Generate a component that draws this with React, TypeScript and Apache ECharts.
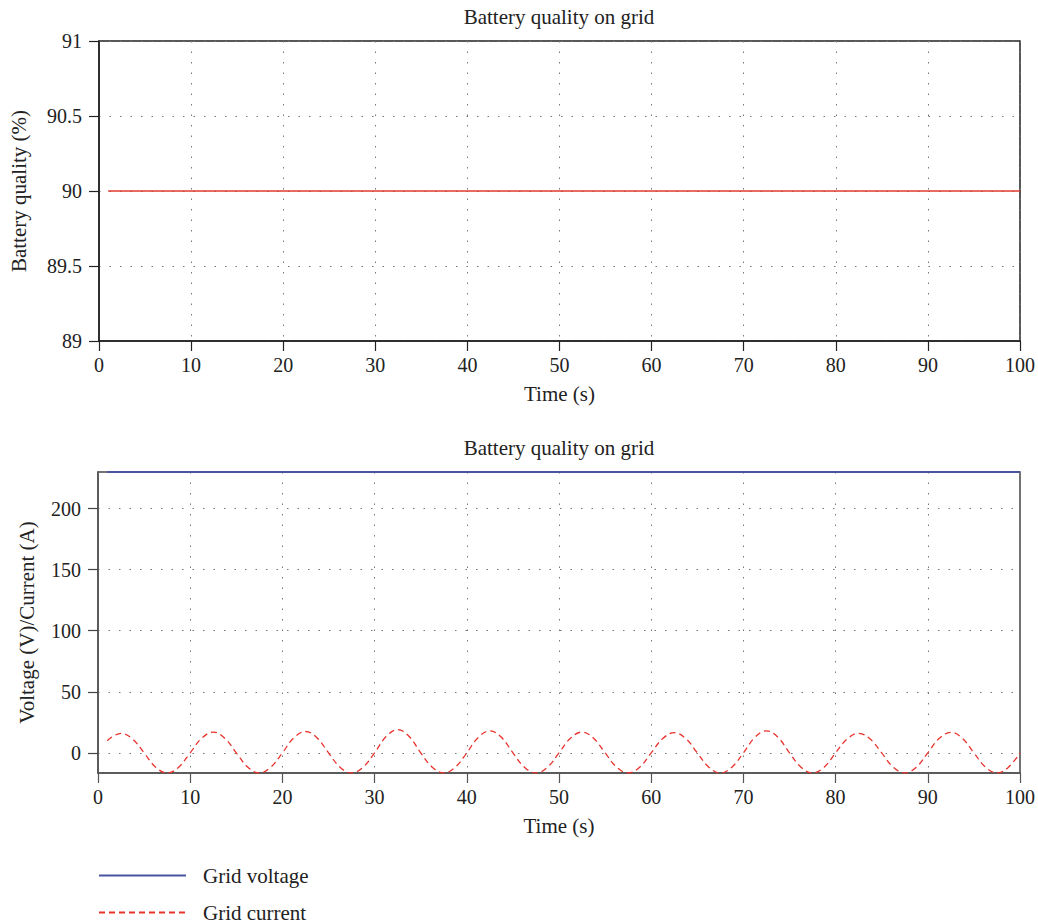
import React, { useEffect, useRef } from "react";
import * as echarts from "echarts";

const titleText = "Battery quality on grid";
const xName = "Time (s)";
const topYName = "Battery quality (%)";
const bottomYName = "Voltage (V)/Current (A)";

const batteryTime = [1, 100];
const batteryValues = [90, 90];

const voltageTime = [1, 100];
const voltageValues = [230, 230];

const currentTime = [
  1, 2.5, 3.75, 5, 6.25, 7.5, 8.75, 10,
  11.25, 12.5, 13.75, 15, 16.25, 17.5, 18.75, 20,
  21.25, 22.5, 23.75, 25, 26.25, 27.5, 28.75, 30,
  31.25, 32.5, 33.75, 35, 36.25, 37.5, 38.75, 40,
  41.25, 42.5, 43.75, 45, 46.25, 47.5, 48.75, 50,
  51.25, 52.5, 53.75, 55, 56.25, 57.5, 58.75, 60,
  61.25, 62.5, 63.75, 65, 66.25, 67.5, 68.75, 70,
  71.25, 72.5, 73.75, 75, 76.25, 77.5, 78.75, 80,
  81.25, 82.5, 83.75, 85, 86.25, 87.5, 88.75, 90,
  91.25, 92.5, 93.75, 95, 96.25, 97.5, 98.75, 100,
];
const currentValues = [
  10, 16, 11.3, 0, -11.7, -16.5, -11.7, 0,
  12, 17, 12, 0, -11.7, -16.5, -11.7, 0,
  12.4, 17.5, 12.4, 0, -11.7, -16.5, -11.7, 0,
  13.4, 19, 13.4, 0, -11.7, -16.5, -11.7, 0,
  12.7, 18, 12.7, 0, -11.7, -16.5, -11.7, 0,
  12, 17, 12, 0, -11.7, -16.5, -11.7, 0,
  11.7, 16.5, 11.7, 0, -11.7, -16.5, -11.7, 0,
  12.7, 18, 12.7, 0, -11.7, -16.5, -11.7, 0,
  11.3, 16, 11.3, 0, -11.7, -16.5, -11.7, 0,
  11.9, 16.8, 11.9, 0, -11.7, -16.5, -11.7, 0,
];

const xTicks = [0, 10, 20, 30, 40, 50, 60, 70, 80, 90, 100];
const topYTicks = [89, 89.5, 90, 90.5, 91];
const bottomYTicks = [0, 50, 100, 150, 200];

const FONT = "'Liberation Serif', 'Times New Roman', serif";
const TEXT = "#222";
const TICK_SIZE = 20;
const NAME_SIZE = 21;

function zip(xs: number[], ys: number[]) {
  return xs.map((x, i) => [x, ys[i]]);
}

export default function App() {
  const ref = useRef<HTMLDivElement>(null);
  useEffect(() => {
    if (!ref.current) return;
    const chart = echarts.init(ref.current, undefined, { renderer: "svg" });
    const splitLine = {
      show: true,
      lineStyle: { color: "#777", type: [1.5, 9], width: 1 },
    };
    const xAxisCommon = (gridIndex: number, axisColor: string) => ({
      type: "value",
      gridIndex,
      min: xTicks[0],
      max: xTicks[xTicks.length - 1],
      interval: 10,
      name: xName,
      nameLocation: "middle",
      nameGap: 42,
      nameTextStyle: { fontFamily: FONT, fontSize: NAME_SIZE, color: TEXT },
      axisLine: { show: true, onZero: false, lineStyle: { color: axisColor, width: 1.5 } },
      axisTick: { show: true, inside: false, length: 10, lineStyle: { color: axisColor, width: 1.2 } },
      axisLabel: { fontFamily: FONT, fontSize: TICK_SIZE, color: TEXT, margin: 14 },
      splitLine,
    });
    chart.setOption({
      animation: false,
      backgroundColor: "#fff",
      title: [
        {
          text: titleText,
          left: 554,
          textAlign: "center",
          top: 1,
          textStyle: { fontFamily: FONT, fontSize: NAME_SIZE, fontWeight: "normal", color: TEXT },
        },
        {
          text: titleText,
          left: 554,
          textAlign: "center",
          top: 432,
          textStyle: { fontFamily: FONT, fontSize: NAME_SIZE, fontWeight: "normal", color: TEXT },
        },
      ],
      grid: [
        { left: 98, width: 922, top: 41, height: 300, show: true, borderColor: "#222", borderWidth: 1.5, backgroundColor: "#fff" },
        { left: 98, width: 922, top: 472, height: 301, show: true, borderColor: "#444", borderWidth: 1.5, backgroundColor: "#fff" },
      ],
      xAxis: [xAxisCommon(0, "#222"), xAxisCommon(1, "#555")],
      yAxis: [
        {
          type: "value",
          gridIndex: 0,
          min: topYTicks[0],
          max: topYTicks[topYTicks.length - 1],
          interval: 0.5,
          name: topYName,
          nameLocation: "middle",
          nameGap: 70,
          nameTextStyle: { fontFamily: FONT, fontSize: NAME_SIZE, color: TEXT },
          axisLine: { show: true, lineStyle: { color: "#222", width: 1.5 } },
          axisTick: { show: true, inside: false, length: 10, lineStyle: { color: "#222", width: 1.2 } },
          axisLabel: { fontFamily: FONT, fontSize: TICK_SIZE, color: TEXT, margin: 17 },
          splitLine,
        },
        {
          type: "value",
          gridIndex: 1,
          min: -16.5,
          max: 230,
          name: bottomYName,
          nameLocation: "middle",
          nameGap: 61,
          nameTextStyle: { fontFamily: FONT, fontSize: NAME_SIZE, color: TEXT },
          axisLine: { show: true, lineStyle: { color: "#555", width: 1.5 } },
          axisTick: {
            show: true,
            inside: false,
            length: 10,
            customValues: bottomYTicks,
            lineStyle: { color: "#444", width: 1.2 },
          },
          axisLabel: { fontFamily: FONT, fontSize: TICK_SIZE, color: TEXT, margin: 17, customValues: bottomYTicks },
          splitLine,
        },
      ],
      legend: {
        orient: "vertical",
        left: 98,
        top: 865,
        padding: 0,
        itemWidth: 87,
        itemHeight: 14,
        itemGap: 16,
        data: ["Grid voltage", "Grid current"],
        itemStyle: { color: "transparent", borderWidth: 0 },
        textStyle: { fontFamily: FONT, fontSize: NAME_SIZE, color: TEXT, padding: [0, 0, 0, 12] },
      },
      series: [
        {
          name: "Battery quality",
          type: "line",
          xAxisIndex: 0,
          yAxisIndex: 0,
          data: zip(batteryTime, batteryValues),
          symbol: "none",
          lineStyle: { color: "#e03a2e", width: 1.4 },
          itemStyle: { color: "#e03a2e" },
        },
        {
          name: "Grid voltage",
          type: "line",
          xAxisIndex: 1,
          yAxisIndex: 1,
          data: zip(voltageTime, voltageValues),
          symbol: "none",
          lineStyle: { color: "#4a55a0", width: 2 },
          itemStyle: { color: "#6f78bd" },
        },
        {
          name: "Grid current",
          type: "line",
          xAxisIndex: 1,
          yAxisIndex: 1,
          data: zip(currentTime, currentValues),
          symbol: "none",
          smooth: 0.4,
          lineStyle: { color: "#e8322c", width: 1.3, type: [6, 4] },
          itemStyle: { color: "#e8322c" },
        },
      ],
    });
    return () => chart.dispose();
  }, []);
  return (
    <div
      ref={ref}
      style={{ position: "fixed", left: 0, top: 0, width: 1038, height: 924, background: "#fff" }}
    />
  );
}
